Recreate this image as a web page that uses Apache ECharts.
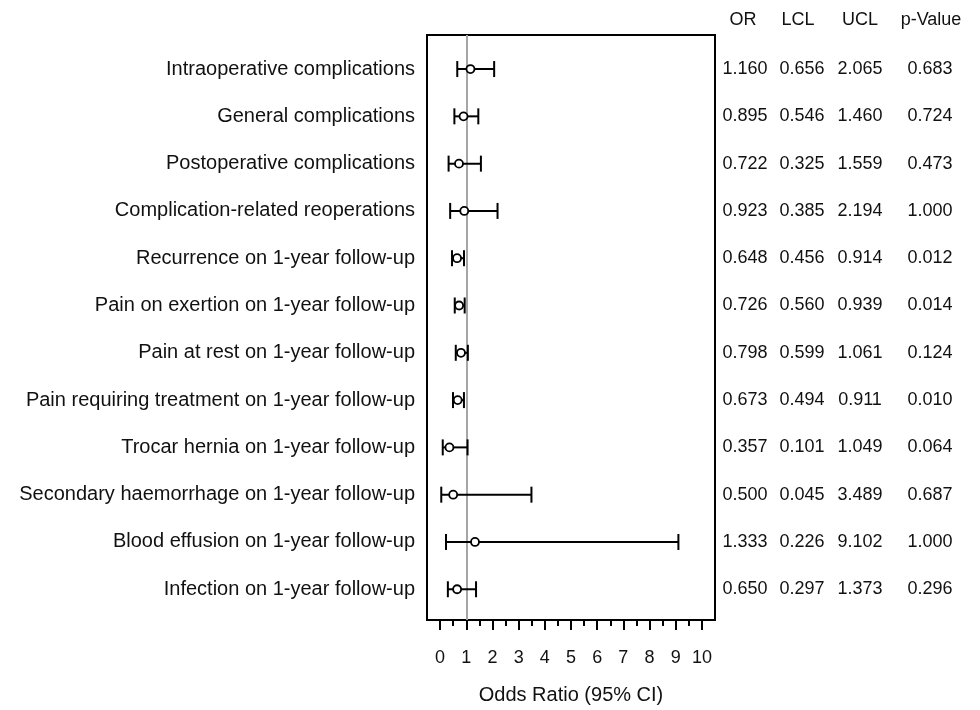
<!DOCTYPE html>
<html>
<head>
<meta charset="utf-8">
<title>Odds ratios</title>
<script src="https://cdn.jsdelivr.net/npm/echarts@6/dist/echarts.min.js"></script>
<style>
  body { margin: 0; background: #fff; }
  #chart { width: 980px; height: 710px; }
</style>
</head>
<body>
<div id="chart"></div>
<script>
const labels = [
  "Intraoperative complications",
  "General complications",
  "Postoperative complications",
  "Complication-related reoperations",
  "Recurrence on 1-year follow-up",
  "Pain on exertion on 1-year follow-up",
  "Pain at rest on 1-year follow-up",
  "Pain requiring treatment on 1-year follow-up",
  "Trocar hernia on 1-year follow-up",
  "Secondary haemorrhage on 1-year follow-up",
  "Blood effusion on 1-year follow-up",
  "Infection on 1-year follow-up"
];
const orVals = [1.160, 0.895, 0.722, 0.923, 0.648, 0.726, 0.798, 0.673, 0.357, 0.500, 1.333, 0.650];
const lclVals = [0.656, 0.546, 0.325, 0.385, 0.456, 0.560, 0.599, 0.494, 0.101, 0.045, 0.226, 0.297];
const uclVals = [2.065, 1.460, 1.559, 2.194, 0.914, 0.939, 1.061, 0.911, 1.049, 3.489, 9.102, 1.373];
const pVals = [0.683, 0.724, 0.473, 1.000, 0.012, 0.014, 0.124, 0.010, 0.064, 0.687, 1.000, 0.296];

const majorTicks = [0, 1, 2, 3, 4, 5, 6, 7, 8, 9, 10];
const minorTicks = [0.5, 1.5, 2.5, 3.5, 4.5, 5.5, 6.5, 7.5, 8.5, 9.5];
const rowIds = labels.map((_, i) => i + 1);

const FONT = "'Liberation Sans', Arial, sans-serif";
const Y_MIN = 0.28;
const Y_MAX = 12.65;

const chart = echarts.init(document.getElementById("chart"));

// one value axis on the right for each table column
function tableAxis(values, margin) {
  return {
    type: "value",
    position: "right",
    min: Y_MIN,
    max: Y_MAX,
    inverse: true,
    axisLine: { show: false },
    axisTick: { show: false },
    splitLine: { show: false },
    axisLabel: {
      customValues: rowIds,
      margin: margin,
      align: "center",
      color: "#111",
      fontFamily: FONT,
      fontSize: 18,
      formatter: (v) => values[Math.round(v) - 1].toFixed(3),
    },
  };
}

function header(text, x) {
  return {
    type: "text",
    x: x,
    y: 20,
    style: {
      text: text,
      fill: "#111",
      font: "18px " + FONT,
      textAlign: "center",
      textVerticalAlign: "middle",
    },
  };
}

chart.setOption({
  animation: false,
  backgroundColor: "#fff",
  grid: {
    left: 427,
    right: 265,
    top: 35,
    bottom: 84,
    show: true,
    borderColor: "#000",
    borderWidth: 2,
  },
  xAxis: [
    {
      type: "value",
      min: -0.5,
      max: 10.5,
      name: "Odds Ratio (95% CI)",
      nameLocation: "middle",
      nameGap: 65,
      nameTextStyle: { fontFamily: FONT, fontSize: 20, color: "#111" },
      axisLine: { show: false },
      splitLine: { show: false },
      axisTick: {
        customValues: majorTicks,
        length: 10,
        lineStyle: { color: "#000", width: 2 },
      },
      axisLabel: {
        customValues: majorTicks,
        margin: 29,
        fontFamily: FONT,
        fontSize: 18,
        color: "#111",
      },
    },
    {
      type: "value",
      position: "bottom",
      min: -0.5,
      max: 10.5,
      axisLine: { show: false },
      splitLine: { show: false },
      axisLabel: { show: false },
      axisTick: {
        customValues: minorTicks,
        length: 6,
        lineStyle: { color: "#000", width: 2 },
      },
    },
  ],
  yAxis: [
    {
      type: "value",
      min: Y_MIN,
      max: Y_MAX,
      inverse: true,
      axisLine: { show: false },
      axisTick: { show: false },
      splitLine: { show: false },
      axisLabel: {
        customValues: rowIds,
        margin: 12,
        color: "#111",
        fontFamily: FONT,
        fontSize: 20,
        formatter: (v) => labels[Math.round(v) - 1],
      },
    },
    tableAxis(orVals, 30),
    tableAxis(lclVals, 87),
    tableAxis(uclVals, 145),
    tableAxis(pVals, 215),
  ],
  graphic: [
    header("OR", 743),
    header("LCL", 798),
    header("UCL", 860),
    header("p-Value", 931),
  ],
  series: [
    {
      // confidence intervals with end caps
      type: "custom",
      xAxisIndex: 0,
      yAxisIndex: 0,
      encode: { x: [1, 2], y: 0 },
      data: rowIds.map((r, i) => [r, lclVals[i], uclVals[i]]),
      renderItem: function (params, api) {
        const lo = api.coord([api.value(1), api.value(0)]);
        const hi = api.coord([api.value(2), api.value(0)]);
        const h = 8;
        const style = { stroke: "#000", lineWidth: 2 };
        return {
          type: "group",
          children: [
            { type: "line", shape: { x1: lo[0], y1: lo[1], x2: hi[0], y2: hi[1] }, style: style },
            { type: "line", shape: { x1: lo[0], y1: lo[1] - h, x2: lo[0], y2: lo[1] + h }, style: style },
            { type: "line", shape: { x1: hi[0], y1: hi[1] - h, x2: hi[0], y2: hi[1] + h }, style: style },
          ],
        };
      },
      markLine: {
        silent: true,
        symbol: ["none", "none"],
        label: { show: false },
        lineStyle: { color: "#a6a6a6", width: 2, type: "solid" },
        data: [{ xAxis: 1 }],
        z: 1,
      },
      z: 3,
    },
    {
      // odds ratio points
      type: "scatter",
      xAxisIndex: 0,
      yAxisIndex: 0,
      symbol: "circle",
      symbolSize: 8,
      itemStyle: { color: "#fff", borderColor: "#000", borderWidth: 1.8, opacity: 1 },
      data: orVals.map((v, i) => [v, i + 1]),
      z: 4,
    },
  ],
});
</script>
</body>
</html>
